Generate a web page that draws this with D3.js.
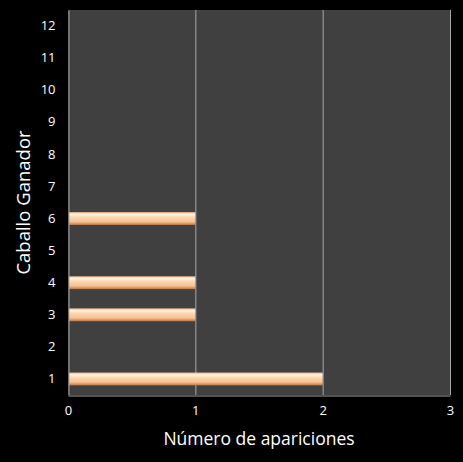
<!DOCTYPE html>
<html>
<head>
<meta charset="utf-8">
<script src="https://cdn.jsdelivr.net/npm/d3@7"></script>
<style>
  html, body { margin: 0; padding: 0; background: #000; }
  svg { display: block; }
</style>
</head>
<body>
<div id="chart"></div>
<script>
// categorias (caballo ganador) y numero de apariciones
const categories = ['1', '2', '3', '4', '5', '6', '7', '8', '9', '10', '11', '12'];
const counts = [2, 0, 1, 1, 0, 1, 0, 0, 0, 0, 0, 0];
const xTicks = [0, 1, 2, 3];

const width = 463, height = 462;
const margin = { top: 10, right: 13, bottom: 67, left: 68 };
const fontFamily = '"Open Sans", "DejaVu Sans", sans-serif';

const svg = d3.select('#chart')
  .append('svg')
  .attr('width', width)
  .attr('height', height);

svg.append('rect').attr('width', width).attr('height', height).attr('fill', '#000');

const x = d3.scaleLinear().domain([0, 3]).range([margin.left, width - margin.right]);
const y = d3.scaleBand()
  .domain(categories)
  .range([height - margin.bottom, margin.top])
  .paddingInner(0.6)
  .paddingOuter(0.3);

// gradiente de la barra
const defs = svg.append('defs');
const grad = defs.append('linearGradient')
  .attr('id', 'barGrad')
  .attr('x1', 0).attr('y1', 0).attr('x2', 0).attr('y2', 1);
grad.append('stop').attr('offset', '0%').attr('stop-color', '#f3b98a');
grad.append('stop').attr('offset', '18%').attr('stop-color', '#fff4e2');
grad.append('stop').attr('offset', '40%').attr('stop-color', '#fdd6ae');
grad.append('stop').attr('offset', '75%').attr('stop-color', '#f9c190');
grad.append('stop').attr('offset', '100%').attr('stop-color', '#b67a50');

// fondo del area de trazado
svg.append('rect')
  .attr('x', margin.left)
  .attr('y', margin.top)
  .attr('width', x(3) - x(0))
  .attr('height', height - margin.bottom - margin.top)
  .attr('fill', '#404040');

// lineas de cuadricula
svg.append('g')
  .selectAll('line')
  .data(xTicks.slice(1))
  .enter()
  .append('line')
  .attr('x1', d => x(d) + 0.5)
  .attr('x2', d => x(d) + 0.5)
  .attr('y1', margin.top)
  .attr('y2', height - margin.bottom)
  .attr('stroke', '#a6a6a6')
  .attr('stroke-width', 1);

// barras
svg.append('g')
  .selectAll('rect')
  .data(categories.map((c, i) => ({ cat: c, value: counts[i] })).filter(d => d.value > 0))
  .enter()
  .append('rect')
  .attr('x', x(0) + 1)
  .attr('y', d => y(d.cat))
  .attr('width', d => x(d.value) - x(0) - 1)
  .attr('height', y.bandwidth())
  .attr('fill', 'url(#barGrad)');

// eje Y
const yAxis = svg.append('g')
  .attr('transform', 'translate(' + (margin.left + 0.5) + ',0)')
  .call(d3.axisLeft(y).tickSize(0).tickPadding(13));
yAxis.select('.domain').attr('stroke', '#a6a6a6');
yAxis.selectAll('text')
  .attr('fill', '#fff')
  .style('font-size', '13px')
  .style('font-family', fontFamily);

// eje X
const xAxis = svg.append('g')
  .attr('transform', 'translate(0,' + (height - margin.bottom + 0.5) + ')')
  .call(d3.axisBottom(x).tickValues(xTicks).tickFormat(d3.format('d')).tickSize(0).tickPadding(10));
xAxis.select('.domain').attr('stroke', '#a6a6a6');
xAxis.selectAll('text')
  .attr('fill', '#fff')
  .style('font-size', '13px')
  .style('font-family', fontFamily);

// titulos
svg.append('text')
  .attr('x', (x(0) + x(3)) / 2)
  .attr('y', 445)
  .attr('text-anchor', 'middle')
  .attr('fill', '#fff')
  .style('font-size', '17.5px')
  .style('font-family', fontFamily)
  .text('Número de apariciones');

svg.append('text')
  .attr('transform', 'translate(30,' + ((margin.top + height - margin.bottom) / 2) + ') rotate(-90)')
  .attr('text-anchor', 'middle')
  .attr('fill', '#fff')
  .style('font-size', '18.5px')
  .style('font-family', fontFamily)
  .text('Caballo Ganador');
</script>
</body>
</html>
